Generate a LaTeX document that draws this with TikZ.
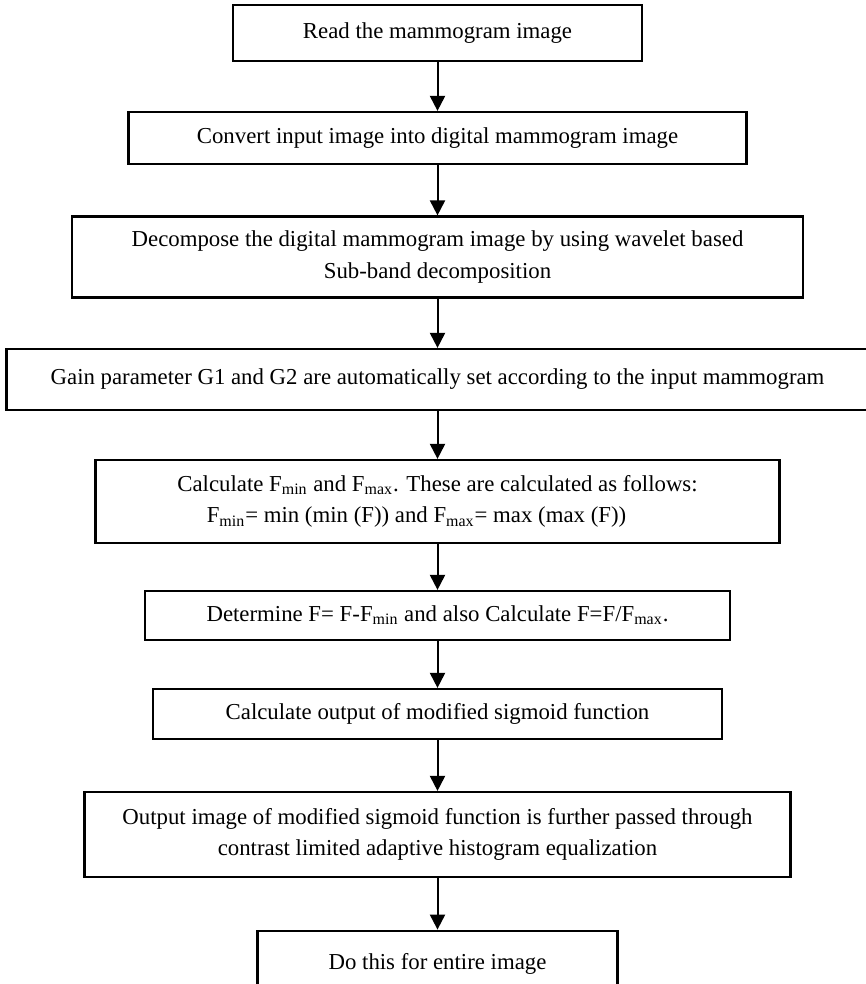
\documentclass[tikz,border=0pt]{standalone}
\usepackage{fontspec}
\setmainfont{Liberation Serif}
\usetikzlibrary{arrows.meta}

\tikzset{
  stepbox/.style={draw=black, line width=1.1pt, inner sep=0pt, align=center,
    font=\fontsize{11.4}{15.7}\selectfont},
  flow/.style={line width=1pt, -{Triangle[length=7.5pt,width=7.5pt]}}
}

\begin{document}
\begin{tikzpicture}[x=1pt, y=-1pt]
        \useasboundingbox (0,0) rectangle (433,492);
        \clip (0,0) rectangle (433,492);

        % boxes, top to bottom
        \node[stepbox, minimum width=204.5pt, minimum height=28pt] (read) at (218.75,16.5) {Read the mammogram image};
        \node[stepbox, minimum width=309pt, minimum height=26pt] (convert) at (218.75,69) {Convert input image into digital mammogram image};
        \node[stepbox, minimum width=365.5pt, minimum height=40.5pt] (decomp) at (218.75,128.5) {Decompose the digital mammogram image by using wavelet based\\Sub-band decomposition};
        \node[stepbox, minimum width=431pt, minimum height=30.5pt] (gain) at (218.75,189.75) {\raisebox{1.5pt}{Gain parameter G1 and G2 are automatically set according to the input mammogram}};
        \node[stepbox, minimum width=342pt, minimum height=41.5pt] (fminmax) at (218.75,250.75) {Calculate F\textsubscript{min} and F\textsubscript{max}. These are calculated as follows:\\F\textsubscript{min}= min (min (F)) and F\textsubscript{max}= max (max (F))\hspace*{21pt}};
        \node[stepbox, minimum width=292.5pt, minimum height=24.5pt] (norm) at (218.75,307.75) {Determine F= F-F\textsubscript{min} and also Calculate F=F/F\textsubscript{max}.};
        \node[stepbox, minimum width=284.5pt, minimum height=25pt] (sigmoid) at (218.75,357) {Calculate output of modified sigmoid function};
        \node[stepbox, minimum width=353pt, minimum height=42.5pt] (clahe) at (218.75,417.25) {Output image of modified sigmoid function is further passed through\\contrast limited adaptive histogram equalization};
        \node[stepbox, minimum width=180pt, minimum height=35pt] (whole) at (218.75,482.85) {\raisebox{4.5pt}{Do this for entire image}};

        % arrows
        \draw[flow] (read) -- (convert);
        \draw[flow] (convert) -- (decomp);
        \draw[flow] (decomp) -- (gain);
        \draw[flow] (gain) -- (fminmax);
        \draw[flow] (fminmax) -- (norm);
        \draw[flow] (norm) -- (sigmoid);
        \draw[flow] (sigmoid) -- (clahe);
        \draw[flow] (clahe) -- (whole);
    \end{tikzpicture}
\end{document}
